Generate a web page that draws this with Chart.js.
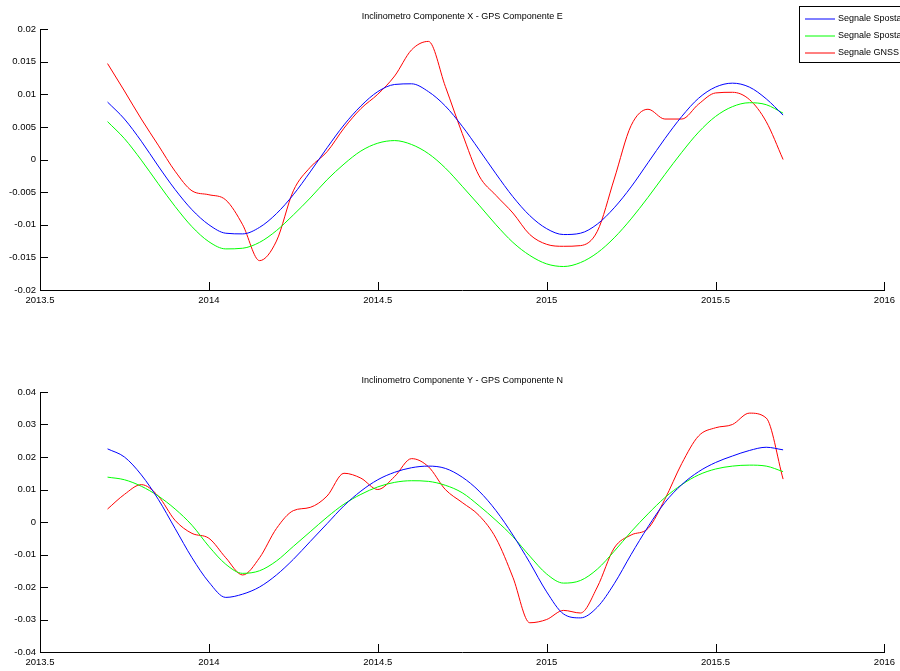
<!DOCTYPE html>
<html>
<head>
<meta charset="utf-8">
<script src="https://cdn.jsdelivr.net/npm/chart.js@4/dist/chart.umd.min.js"></script>
<style>
  html, body { margin: 0; padding: 0; background: #fff; }
  body { width: 900px; height: 671px; position: relative; overflow: hidden; }
  .panel { position: absolute; left: 0; width: 900px; }
</style>
</head>
<body>
<div class="panel" style="top:0;height:320px"><canvas id="chartX"></canvas></div>
<div class="panel" style="top:360px;height:311px"><canvas id="chartY"></canvas></div>
<script>
// Sample times (decimal years)
const times = [
  2013.70, 2013.75, 2013.80, 2013.85, 2013.90, 2013.95,
  2014.00, 2014.05, 2014.10, 2014.15, 2014.20, 2014.25, 2014.30, 2014.35, 2014.40, 2014.45,
  2014.50, 2014.55, 2014.60, 2014.65, 2014.70, 2014.75, 2014.80, 2014.85, 2014.90, 2014.95,
  2015.00, 2015.05, 2015.10, 2015.15, 2015.20, 2015.25, 2015.30, 2015.35, 2015.40, 2015.45,
  2015.50, 2015.55, 2015.60, 2015.65, 2015.70
];

// Component X / E
const xInclBlue = [
  0.0088, 0.0062, 0.0028, -0.0010, -0.0046, -0.0077,
  -0.0100, -0.0113, -0.0114, -0.0104, -0.0083, -0.0054, -0.0019, 0.0018, 0.0053, 0.0082,
  0.0104, 0.0115, 0.0116, 0.0104, 0.0082, 0.0051, 0.0015, -0.0022, -0.0057, -0.0086,
  -0.0106, -0.0115, -0.0113, -0.0099, -0.0074, -0.0042, -0.0005, 0.0032, 0.0066, 0.0094,
  0.0111, 0.0117, 0.0111, 0.0093, 0.0068
];
const xInclGreen = [
  0.0058, 0.0032, -0.0001, -0.0037, -0.0072, -0.0103,
  -0.0126, -0.0137, -0.0136, -0.0127, -0.0109, -0.0085, -0.0059, -0.0031, -0.0007, 0.0013,
  0.0025, 0.0029, 0.0023, 0.0009, -0.0013, -0.0041, -0.0070, -0.0100, -0.0127, -0.0147,
  -0.0160, -0.0164, -0.0158, -0.0143, -0.0120, -0.0091, -0.0058, -0.0023, 0.0011, 0.0042,
  0.0066, 0.0081, 0.0087, 0.0084, 0.0071
];
const eGnss = [
  0.0147, 0.0105, 0.0062, 0.0022, -0.0018, -0.0048,
  -0.0054, -0.0062, -0.0100, -0.0155, -0.0125, -0.0048, -0.0012, 0.0012, 0.0048, 0.0078,
  0.0100, 0.0128, 0.0168, 0.0181, 0.0112, 0.0040, -0.0025, -0.0055, -0.0082, -0.0115,
  -0.0130, -0.0133, -0.0132, -0.0110, -0.0030, 0.0052, 0.0077, 0.0062, 0.0062, 0.0085,
  0.0102, 0.0103, 0.0092, 0.0058, 0.0000
];

// Component Y / N
const yInclBlue = [
  0.0225, 0.0200, 0.0145, 0.0070, -0.0020, -0.0110,
  -0.0185, -0.0232, -0.0222, -0.0200, -0.0163, -0.0115, -0.0060, -0.0005, 0.0050, 0.0095,
  0.0130, 0.0153, 0.0167, 0.0172, 0.0165, 0.0138, 0.0095, 0.0035, -0.0040, -0.0125,
  -0.0215, -0.0283, -0.0295, -0.0262, -0.0190, -0.0100, -0.0015, 0.0060, 0.0115, 0.0155,
  0.0183, 0.0203, 0.0220, 0.0230, 0.0222
];
const yInclGreen = [
  0.0138, 0.0130, 0.0110, 0.0080, 0.0040, -0.0010,
  -0.0075, -0.0130, -0.0158, -0.0150, -0.0120, -0.0075, -0.0030, 0.0015, 0.0055, 0.0085,
  0.0108, 0.0122, 0.0127, 0.0125, 0.0113, 0.0090, 0.0050, 0.0005, -0.0045, -0.0105,
  -0.0160, -0.0188, -0.0180, -0.0145, -0.0090, -0.0030, 0.0025, 0.0075, 0.0115, 0.0145,
  0.0163, 0.0172, 0.0175, 0.0172, 0.0155
];
const nGnss = [
  0.0040, 0.0085, 0.0115, 0.0080, 0.0005, -0.0035,
  -0.0050, -0.0110, -0.0163, -0.0110, -0.0020, 0.0035, 0.0045, 0.0080, 0.0150, 0.0135,
  0.0100, 0.0140, 0.0195, 0.0170, 0.0100, 0.0060, 0.0020, -0.0050, -0.0170, -0.0310,
  -0.0300, -0.0272, -0.0280, -0.0200, -0.0080, -0.0040, -0.0020, 0.0070, 0.0180, 0.0265,
  0.0290, 0.0300, 0.0335, 0.0320, 0.0132
];

// Axis ticks
const xTicks = [2013.5, 2014, 2014.5, 2015, 2015.5, 2016];
const xTickLabels = ['2013.5', '2014', '2014.5', '2015', '2015.5', '2016'];
const yTicksX = [-0.02, -0.015, -0.01, -0.005, 0, 0.005, 0.01, 0.015, 0.02];
const yTickLabelsX = ['-0.02', '-0.015', '-0.01', '-0.005', '0', '0.005', '0.01', '0.015', '0.02'];
const yTicksY = [-0.04, -0.03, -0.02, -0.01, 0, 0.01, 0.02, 0.03, 0.04];
const yTickLabelsY = ['-0.04', '-0.03', '-0.02', '-0.01', '0', '0.01', '0.02', '0.03', '0.04'];

const seriesLabels = ['Segnale Spostamento', 'Segnale Spostamento', 'Segnale GNSS'];
const seriesColors = ['#0000ff', '#00ff00', '#ff0000'];

const FONT_FAMILY = '"Liberation Sans", Arial, Helvetica, sans-serif';
const FONT_SIZE = 9.5;
const TITLE_SIZE = 9;

const pts = (vals) => times.map((t, i) => ({ x: t, y: vals[i] }));

function makeDatasets(series) {
  return series.map((vals, i) => ({
    label: seriesLabels[i],
    data: pts(vals),
    borderColor: seriesColors[i],
    backgroundColor: seriesColors[i],
    borderWidth: 1,
    pointRadius: 0,
    cubicInterpolationMode: 'monotone',
    fill: false
  }));
}

// Title, inward tick marks and legend box
const decor = {
  id: 'decor',
  afterDraw(chart, args, opts) {
    const { ctx, chartArea: a, scales: { x, y } } = chart;
    ctx.save();
    ctx.strokeStyle = '#000';
    ctx.lineWidth = 1;
    ctx.beginPath();
    xTicks.forEach(v => {
      const p = Math.round(x.getPixelForValue(v)) + 0.5;
      ctx.moveTo(p, a.bottom);
      ctx.lineTo(p, a.bottom - 8);
    });
    opts.yTicks.forEach(v => {
      const p = Math.round(y.getPixelForValue(v)) + 0.5;
      ctx.moveTo(a.left, p);
      ctx.lineTo(a.left + 8, p);
    });
    ctx.stroke();

    ctx.fillStyle = '#000';
    ctx.font = TITLE_SIZE + 'px ' + FONT_FAMILY;
    ctx.textAlign = 'center';
    ctx.textBaseline = 'middle';
    ctx.fillText(opts.title, (a.left + a.right) / 2, opts.titleY);

    if (opts.legend) {
      const bx = 799.5, by = 6.5, bw = 140, bh = 56;
      ctx.fillStyle = '#fff';
      ctx.fillRect(bx, by, bw, bh);
      ctx.strokeStyle = '#000';
      ctx.strokeRect(bx, by, bw, bh);
      const rows = [19, 36, 53];
      chart.data.datasets.forEach((ds, i) => {
        ctx.strokeStyle = ds.borderColor;
        ctx.lineWidth = 1;
        ctx.beginPath();
        ctx.moveTo(805, rows[i]);
        ctx.lineTo(835, rows[i]);
        ctx.stroke();
        ctx.fillStyle = '#000';
        ctx.textAlign = 'left';
        ctx.fillText(ds.label, 838, rows[i]);
      });
    }
    ctx.restore();
  }
};

function makeChart(id, series, yMin, yMax, yTicks, yLabels, title, titleY, padTop, xAxisH, legend) {
  return new Chart(document.getElementById(id), {
    type: 'line',
    data: { datasets: makeDatasets(series) },
    plugins: [decor],
    options: {
      responsive: true,
      maintainAspectRatio: false,
      animation: false,
      layout: { padding: { top: padTop, right: 12, left: 0, bottom: 0 } },
      plugins: {
        legend: { display: false },
        title: { display: false },
        tooltip: { enabled: false },
        decor: { title, titleY, yTicks, legend }
      },
      scales: {
        x: {
          type: 'linear',
          min: 2013.5,
          max: 2016,
          afterBuildTicks: s => { s.ticks = xTicks.map(v => ({ value: v })); },
          afterFit: s => { s.height = xAxisH; },
          grid: { display: true, drawOnChartArea: false, drawTicks: false, tickLength: 0 },
          border: { display: true, color: '#000', width: 1 },
          ticks: {
            autoSkip: false,
            maxRotation: 0,
            padding: 5,
            color: '#000',
            font: { family: FONT_FAMILY, size: FONT_SIZE },
            callback: (v, i) => xTickLabels[i]
          }
        },
        y: {
          type: 'linear',
          min: yMin,
          max: yMax,
          afterBuildTicks: s => { s.ticks = yTicks.map(v => ({ value: v })); },
          afterFit: s => { s.width = 40; },
          grid: { display: true, drawOnChartArea: false, drawTicks: false, tickLength: 0 },
          border: { display: true, color: '#000', width: 1 },
          ticks: {
            autoSkip: false,
            padding: 4,
            color: '#000',
            font: { family: FONT_FAMILY, size: FONT_SIZE },
            callback: (v, i) => yLabels[i]
          }
        }
      }
    }
  });
}

makeChart('chartX', [xInclBlue, xInclGreen, eGnss], -0.02, 0.02, yTicksX, yTickLabelsX,
  'Inclinometro Componente X - GPS Componente E', 17, 29, 30, true);
makeChart('chartY', [yInclBlue, yInclGreen, nGnss], -0.04, 0.04, yTicksY, yTickLabelsY,
  'Inclinometro Componente Y - GPS Componente N', 21, 32, 19, false);
</script>
</body>
</html>
